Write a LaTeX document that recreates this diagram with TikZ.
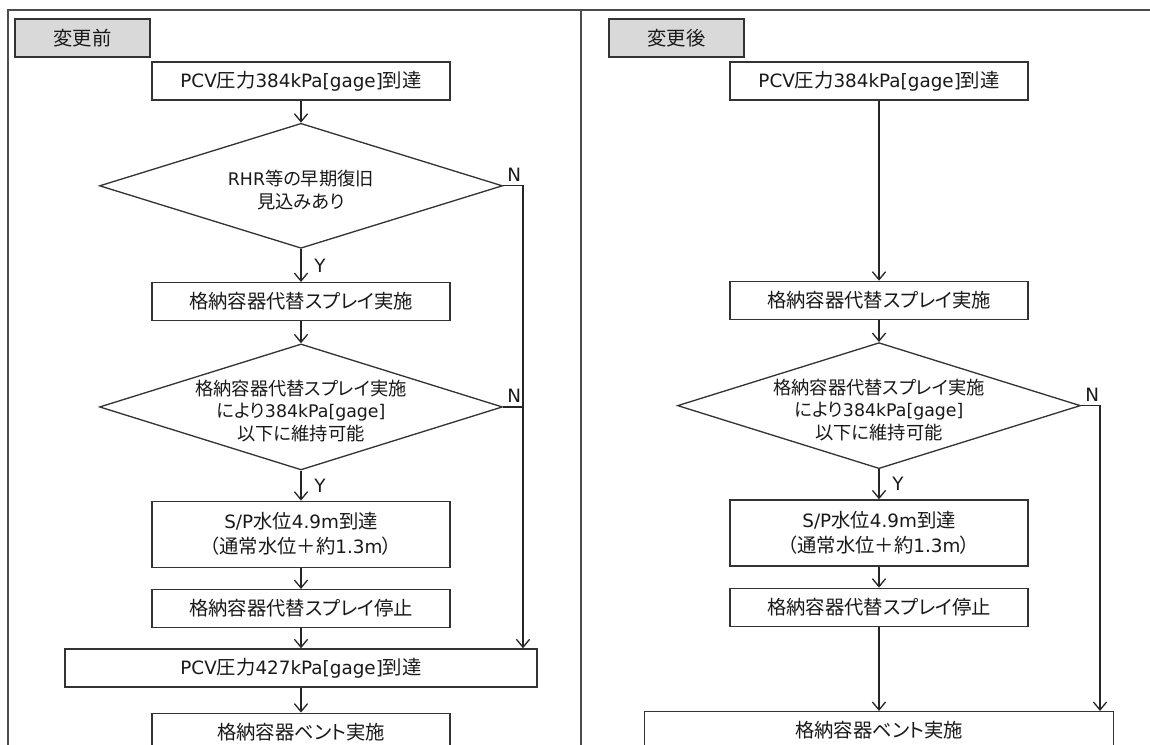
\documentclass[tikz,border=0pt]{standalone}
\usepackage{fontspec}
\setmainfont{Noto Sans CJK JP}[RawFeature=+palt]
\newfontfamily\latfont{DejaVu Sans}[Scale=0.95]
\newcommand{\ltn}[1]{{\latfont #1}}
\usetikzlibrary{positioning,shapes.geometric,arrows.meta}

\begin{document}
\begin{tikzpicture}[node distance=0.44cm, color=black!90,
    proc/.style={draw=black!80, line width=0.75pt, fill=white, minimum width=5.96cm, minimum height=0.76cm, inner sep=1pt, align=center, font=\fontsize{11}{14.2}\selectfont},
    dec/.style={draw=black!80, line width=0.75pt, shape=diamond, minimum width=8.06cm, minimum height=2.5cm, inner sep=0pt},
    dectext/.style={align=center, inner sep=0pt, yshift=-0.08cm, font=\fontsize{10.4}{12.8}\selectfont},
    tag/.style={proc, fill=black!15, minimum width=2.7cm},
    yn/.style={inner sep=1pt, font=\latfont\fontsize{11}{13}\selectfont},
    flow/.style={draw=black!85, line width=0.75pt, -{Straight Barb[length=4.5pt,width=7.5pt]}},
    link/.style={draw=black!85, line width=0.75pt},
    frame/.style={draw=black!70, line width=1pt}]

    \useasboundingbox (0,0) rectangle (23,-14.9);

    % outer frame and divider
    \draw[frame] (0.16,-14.9) -- (0.16,-0.2) -- (23,-0.2);
    \draw[frame] (11.62,-0.2) -- (11.62,-14.9);

    % before the change
    \node (tagA) [tag] at (1.65,-0.76) {変更前};
    \node (pA1) [proc] at (6.02,-1.62) {\ltn{PCV}圧力\ltn{384kPa[gage]}到達};
    \node (dA1) [dec, below=of pA1] {};
    \node (dA1t) [dectext] at (dA1.center) {\ltn{RHR}等の早期復旧\\見込みあり};
    \node (pA2) [proc, below=0.66cm of dA1] {格納容器代替スプレイ実施};
    \node (dA2) [dec, minimum height=2.52cm, below=of pA2] {};
    \node (dA2t) [dectext] at (dA2.center) {格納容器代替スプレイ実施\\により\ltn{384kPa[gage]}\\以下に維持可能};
    \node (pA3) [proc, minimum height=1.32cm, below=0.6cm of dA2] {\ltn{S/P}水位\ltn{4.9m}到達\\（通常水位＋約\ltn{1.3m}）};
    \node (pA4) [proc, below=0.42cm of pA3] {格納容器代替スプレイ停止};
    \node (pA5) [proc, minimum width=9.44cm, below=0.4cm of pA4] {\ltn{PCV}圧力\ltn{427kPa[gage]}到達};
    \node (pA6) [proc, below=0.5cm of pA5] {格納容器ベント実施};

    \draw[flow] (pA1) -- (dA1);
    \draw[flow] (dA1) -- node[yn, right=0.22cm] {Y} (pA2);
    \draw[flow] (pA2) -- (dA2);
    \draw[flow] (dA2) -- node[yn, right=0.22cm] {Y} (pA3);
    \draw[flow] (pA3) -- (pA4);
    \draw[flow] (pA4) -- (pA5);
    \draw[flow] (pA5) -- (pA6);

    % N branch, left
    \coordinate (nA) at (dA1.east -| 10.46,0);
    \draw[flow] (dA1.east) -- (nA) -- (nA |- pA5.north);
    \draw[link] (dA2.east) -- (dA2.east -| nA);
    \node (nA1) [yn, above right=0.05cm and 0.04cm of dA1.east] {N};
    \node (nA2) [yn, above right=0.05cm and 0.04cm of dA2.east] {N};

    % after the change
    \node (tagB) [tag] at (13.53,-0.76) {変更後};
    \node (pB1) [proc] at (17.58,-1.62) {\ltn{PCV}圧力\ltn{384kPa[gage]}到達};
    \node (pB2) [proc, below=3.6cm of pB1] {格納容器代替スプレイ実施};
    \node (dB2) [dec, minimum height=2.52cm, below=of pB2] {};
    \node (dB2t) [dectext] at (dB2.center) {格納容器代替スプレイ実施\\により\ltn{384kPa[gage]}\\以下に維持可能};
    \node (pB3) [proc, minimum height=1.32cm, below=0.6cm of dB2] {\ltn{S/P}水位\ltn{4.9m}到達\\（通常水位＋約\ltn{1.3m}）};
    \node (pB4) [proc, below=0.42cm of pB3] {格納容器代替スプレイ停止};
    \node (pB5) [proc, minimum width=9.38cm, below=1.68cm of pB4] {格納容器ベント実施};

    \draw[flow] (pB1) -- (pB2);
    \draw[flow] (pB2) -- (dB2);
    \draw[flow] (dB2) -- node[yn, right=0.22cm] {Y} (pB3);
    \draw[flow] (pB3) -- (pB4);
    \draw[flow] (pB4) -- (pB5);

    % N branch, right
    \coordinate (nB) at (dB2.east -| 22.0,0);
    \draw[flow] (dB2.east) -- (nB) -- (nB |- pB5.north);
    \node (nB1) [yn, above right=0.05cm and 0.04cm of dB2.east] {N};
\end{tikzpicture}
\end{document}
